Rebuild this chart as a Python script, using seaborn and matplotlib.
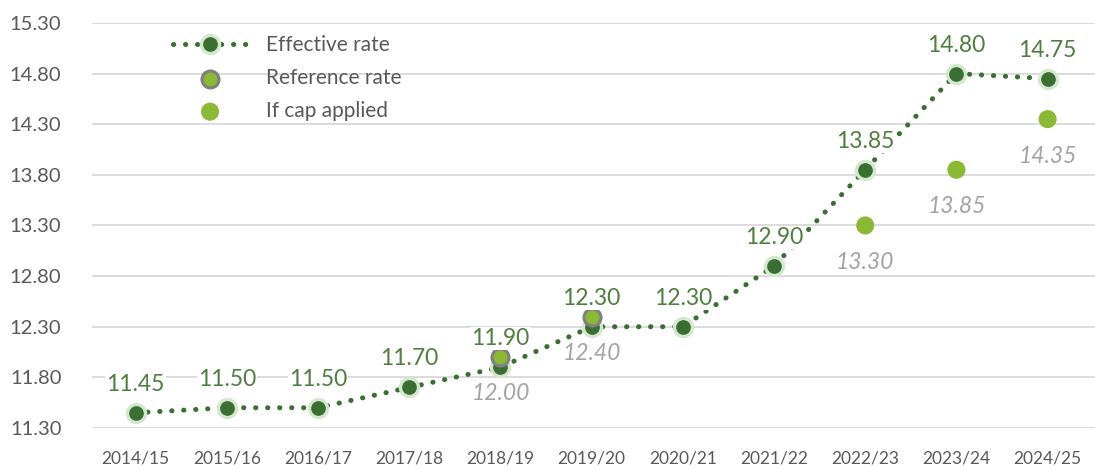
import numpy as np
import pandas as pd
import matplotlib
matplotlib.use("Agg")
import matplotlib.pyplot as plt
import seaborn as sns

# ── datos ──
years = ["2014/15", "2015/16", "2016/17", "2017/18", "2018/19", "2019/20",
         "2020/21", "2021/22", "2022/23", "2023/24", "2024/25"]
effective = [11.45, 11.50, 11.50, 11.70, 11.90, 12.30, 12.30, 12.90, 13.85, 14.80, 14.75]
reference = [np.nan, np.nan, np.nan, np.nan, 12.00, 12.40, np.nan, np.nan, np.nan, np.nan, np.nan]
cap = [np.nan, np.nan, np.nan, np.nan, np.nan, np.nan, np.nan, np.nan, 13.30, 13.85, 14.35]
yticks = [11.30, 11.80, 12.30, 12.80, 13.30, 13.80, 14.30, 14.80, 15.30]

DARK = "#3b6e33"
HALO = "#d3e8cd"
LIGHT = "#8bb935"
GREY_EDGE = "#808080"
LBL_GREEN = "#4f7f40"
LBL_GREY = "#a3a3a3"
TXT = "#595959"

df = pd.DataFrame({"x": np.arange(len(years)), "effective": effective,
                   "reference": reference, "cap": cap})

sns.set_theme(style="white")
plt.rcParams["font.family"] = ["Lato", "DejaVu Sans"]

fig = plt.figure(figsize=(10.95, 4.68), dpi=100)
ax = fig.add_axes([0.084, 0.0855, 0.916, 0.8655])

for y in yticks:
    ax.axhline(y, color="#d9d9d9", linewidth=1.3, zorder=0)

sns.lineplot(data=df, x="x", y="effective", ax=ax, color=DARK,
             linewidth=3.6, linestyle=(0, (0.05, 2.35)), dash_capstyle="round",
             marker="o", markersize=13, markerfacecolor=DARK,
             markeredgecolor=HALO, markeredgewidth=2.4,
             label="Effective rate", zorder=3)

sns.scatterplot(data=df, x="x", y="reference", ax=ax, color=LIGHT,
                s=150, edgecolor=GREY_EDGE, linewidth=2.2,
                label="Reference rate", zorder=4)
sns.scatterplot(data=df, x="x", y="cap", ax=ax, color=LIGHT,
                s=170, edgecolor="none", label="If cap applied", zorder=4)

# etiquetas de valores
for i, v in enumerate(effective):
    ax.annotate(f"{v:.2f}", (i, v), xytext=(0, 13), textcoords="offset points",
                ha="center", va="bottom", fontsize=16.5, color=LBL_GREEN,
                zorder=5,
                bbox=dict(boxstyle="square,pad=0.05", fc="white", ec="none"))
for serie in (reference, cap):
    for i, v in enumerate(serie):
        if np.isnan(v):
            continue
        ax.annotate(f"{v:.2f}", (i, v), xytext=(0, -19), textcoords="offset points",
                    ha="center", va="top", fontsize=16.5, color=LBL_GREY,
                    style="italic", zorder=5)

ax.set_xlim(-0.48, 10.52)
ax.set_ylim(11.30, 15.30)
ax.set_xticks(range(len(years)))
ax.set_xticklabels(years)
ax.set_yticks(yticks)
ax.set_yticklabels([f"{t:.2f}" for t in yticks])
ax.tick_params(axis="x", length=0, pad=16, labelsize=12.5, colors=TXT)
ax.tick_params(axis="y", length=0, pad=22, labelsize=14.5, colors=TXT)
ax.set_xlabel("")
ax.set_ylabel("")
for s in ax.spines.values():
    s.set_visible(False)

leg = ax.legend(loc="upper left", bbox_to_anchor=(0.072, 0.99), frameon=False,
                prop={"size": 15}, labelspacing=0.62,
                handlelength=3.6, handletextpad=0.9, borderaxespad=0)
for t in leg.get_texts():
    t.set_color(TXT)

fig.savefig("out.png", dpi=100)
